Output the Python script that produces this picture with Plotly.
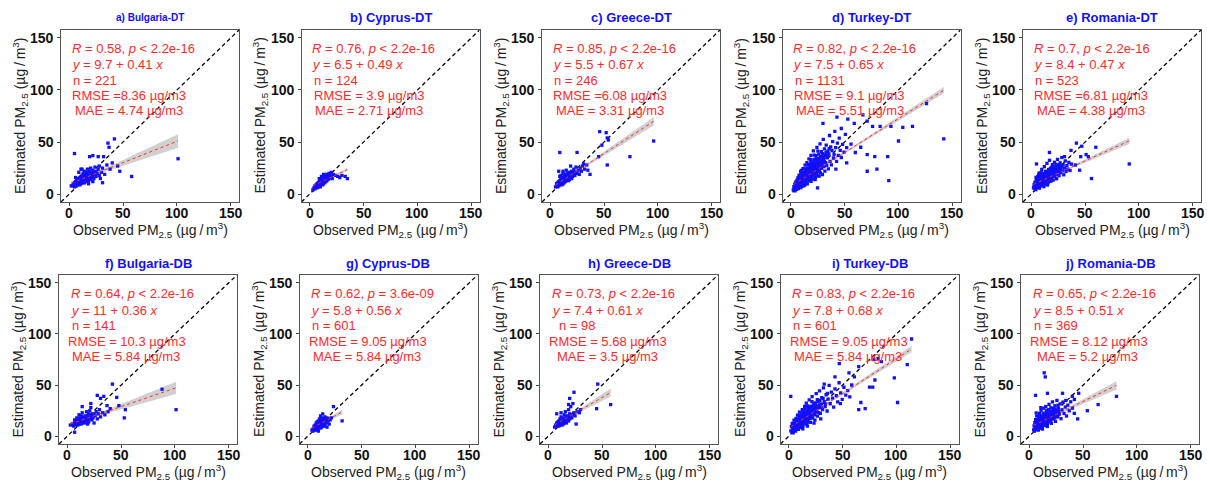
import numpy as np
import plotly.graph_objects as go

# ---------------------------------------------------------------------------
# Observed vs. estimated PM2.5 (µg/m3), one panel per country / product
# ---------------------------------------------------------------------------

# (observed, estimated) pairs per panel
BULGARIA_DT = [
    (3, 8), (4, 10), (5, 7), (5, 11), (6, 9), (6, 12), (7, 8), (7, 10), (7, 13), (8, 9), (8, 11), (8, 14),
    (9, 10), (9, 12), (9, 15), (10, 9), (10, 11), (10, 13), (10, 16), (11, 10), (11, 12), (11, 14), (11, 17),
    (12, 11), (12, 13), (12, 15), (12, 18), (13, 12), (13, 14), (13, 16), (13, 20), (14, 11), (14, 13), (14, 15),
    (14, 17), (14, 22), (15, 12), (15, 14), (15, 16), (15, 19), (16, 13), (16, 15), (16, 18), (16, 21), (17, 14),
    (17, 16), (17, 19), (17, 24), (18, 13), (18, 17), (18, 20), (19, 15), (19, 18), (19, 22), (20, 14), (20, 17),
    (20, 19), (20, 25), (21, 16), (21, 20), (22, 18), (22, 23), (23, 15), (23, 21), (24, 19), (24, 26), (25, 17),
    (25, 22), (26, 20), (27, 24), (28, 18), (28, 27), (30, 21), (31, 25), (33, 19), (35, 28), (38, 24), (29, 15),
    (22, 12), (18, 10), (9, 21), (12, 24), (6, 16),
    (5, 39), (19, 36), (22, 37), (27, 36), (32, 36), (36, 49), (42, 53), (37, 45), (47, 22), (58, 17),
    (101, 34), (31, 11), (14, 11), (2, 8), (11, 24), (40, 30), (45, 27),
]
CYPRUS_DT = [
    (3, 4), (4, 6), (5, 5), (5, 8), (6, 7), (6, 9), (7, 6), (7, 8), (7, 10), (8, 7), (8, 9), (8, 11), (9, 8),
    (9, 10), (9, 12), (10, 7), (10, 9), (10, 11), (10, 13), (11, 10), (11, 12), (11, 14), (12, 9), (12, 11),
    (12, 13), (12, 16), (13, 10), (13, 12), (13, 15), (14, 11), (14, 13), (14, 17), (15, 12), (15, 14), (15, 18),
    (16, 13), (16, 16), (16, 19), (17, 14), (17, 17), (18, 15), (18, 20), (19, 16), (19, 18), (20, 17), (20, 21),
    (21, 15), (22, 19), (24, 18), (26, 17), (28, 16), (30, 18), (33, 17), (35, 15), (9, 15), (11, 17), (13, 19),
]
GREECE_DT = [
    (5, 7), (6, 8), (6, 10), (7, 7), (7, 9), (7, 11), (8, 8), (8, 10), (8, 12), (9, 9), (9, 11), (9, 13), (10, 10),
    (10, 12), (10, 14), (10, 18), (11, 9), (11, 11), (11, 13), (11, 16), (12, 10), (12, 12), (12, 14), (12, 20),
    (13, 11), (13, 13), (13, 15), (13, 17), (14, 12), (14, 14), (14, 16), (14, 19), (15, 13), (15, 15), (15, 18),
    (16, 14), (16, 16), (16, 20), (17, 13), (17, 15), (17, 18), (18, 14), (18, 17), (18, 21), (19, 16), (19, 19),
    (20, 15), (20, 18), (20, 22), (21, 17), (21, 20), (22, 19), (22, 24), (23, 18), (24, 21), (24, 26), (25, 20),
    (26, 23), (27, 19), (28, 25), (29, 22), (30, 27), (32, 24), (12, 22), (9, 17), (15, 23), (19, 27), (8, 22),
    (9, 40), (25, 40), (46, 60), (52, 59), (53, 54), (54, 52), (53, 28), (74, 36), (96, 51), (34, 28), (35, 23),
    (37, 19), (31, 29), (45, 36), (48, 47),
]
TURKEY_DT = [
    (2.5, 4.1), (3.1, 7.2), (3.4, 5.0), (3.8, 9.6), (4.2, 3.3), (4.6, 6.4), (4.9, 11.8), (5.3, 8.1), (5.5, 4.7),
    (5.9, 13.5), (6.2, 6.9), (6.4, 10.2), (6.8, 15.6), (7.1, 8.3), (7.3, 5.4), (7.7, 12.1), (7.9, 18.2),
    (8.2, 9.7), (8.5, 6.8), (8.8, 14.3), (9.0, 11.1), (9.3, 21.5), (9.6, 8.2), (9.9, 16.4), (10.1, 12.7),
    (10.4, 7.5), (10.7, 19.3), (11.0, 10.4), (11.2, 14.9), (11.5, 24.6), (11.8, 9.1), (12.1, 17.2), (12.3, 12.5),
    (12.6, 20.8), (12.9, 15.3), (13.2, 8.7), (13.4, 27.9), (13.7, 13.6), (14.0, 18.4), (14.2, 22.5), (14.5, 11.2),
    (14.8, 16.1), (15.1, 30.2), (15.3, 14.4), (15.6, 19.8), (15.9, 25.1), (16.2, 12.6), (16.4, 17.5),
    (16.7, 21.9), (17.0, 33.8), (17.2, 15.2), (17.5, 28.4), (17.8, 19.1), (18.1, 23.6), (18.3, 13.4),
    (18.6, 17.8), (18.9, 37.2), (19.2, 21.3), (19.4, 26.8), (19.7, 16.3), (20.0, 30.5), (20.3, 19.6),
    (20.5, 24.2), (20.8, 14.5), (21.1, 41.6), (21.4, 22.8), (21.6, 28.1), (21.9, 18.3), (22.2, 33.4),
    (22.5, 25.7), (22.7, 20.9), (23.0, 16.2), (23.3, 29.6), (23.6, 36.9), (23.8, 23.4), (24.1, 19.2),
    (24.4, 44.8), (24.7, 27.3), (25.0, 31.9), (25.2, 21.7), (25.5, 17.6), (25.8, 25.9), (26.1, 38.4),
    (26.4, 29.2), (26.7, 23.1), (27.0, 34.6), (27.3, 48.2), (27.6, 20.4), (27.9, 27.5), (28.2, 31.3),
    (28.5, 40.7), (28.8, 24.8), (29.2, 36.2), (29.5, 18.9), (29.9, 29.7), (30.3, 52.6), (30.6, 33.1),
    (31.0, 26.4), (31.4, 43.5), (31.8, 22.1), (32.2, 37.8), (32.6, 30.2), (33.0, 47.1), (33.5, 27.6),
    (34.0, 34.9), (34.5, 41.2), (35.0, 24.3), (35.5, 38.6), (36.1, 56.3), (36.6, 31.4), (37.2, 45.3),
    (37.8, 28.2), (38.4, 41.9), (39.0, 50.4), (39.7, 34.7), (40.3, 38.1), (41.0, 60.2), (41.8, 44.6),
    (42.6, 31.5), (43.4, 48.9), (44.2, 37.3), (45.1, 53.7), (46.0, 42.1), (47.0, 35.2), (48.2, 47.8),
    (49.5, 40.3), (50.8, 57.4), (52.0, 44.6),
    (6.0, 9.0), (7.5, 10.6), (8.9, 12.4), (10.2, 9.6), (11.6, 13.7), (12.8, 10.9), (13.9, 15.7), (15.0, 17.3),
    (16.0, 14.8), (17.3, 18.6), (18.4, 20.2), (19.5, 17.9), (20.6, 21.7), (22.0, 23.9), (23.4, 21.0),
    (24.8, 24.5), (26.0, 26.8), (27.4, 25.1), (28.7, 28.9), (30.1, 31.1), (4.0, 5.5), (5.0, 6.2), (9.5, 6.4),
    (12.0, 7.9), (15.5, 9.8), (19.0, 12.2), (22.8, 14.1), (26.5, 17.4), (11.3, 20.1), (14.6, 24.0), (8.0, 16.8),
    (18.8, 30.9), (23.9, 34.2),
    (3.7, 6.5), (4.4, 8.8), (5.1, 10.3), (5.7, 7.6), (6.6, 12.9), (7.0, 11.0), (7.4, 14.5), (8.4, 11.6),
    (8.6, 15.2), (9.2, 13.9), (9.8, 18.6), (10.5, 15.7), (10.9, 12.2), (11.9, 16.1), (12.4, 19.4), (12.7, 14.0),
    (13.5, 17.1), (13.8, 21.2), (14.4, 19.9), (14.9, 13.6), (15.4, 22.8), (15.8, 16.9), (16.5, 20.3),
    (16.9, 24.7), (17.6, 17.2), (18.0, 26.1), (18.7, 22.4), (19.3, 19.0), (19.9, 27.4), (20.4, 23.1),
    (21.0, 25.6), (21.7, 20.0), (22.3, 29.8), (22.9, 27.0), (23.5, 31.5), (24.3, 25.9), (24.9, 29.0),
    (25.6, 33.5), (26.3, 27.8), (27.1, 30.2), (27.8, 36.1), (28.9, 33.0), (29.7, 38.9), (31.2, 35.4),
    (32.8, 40.1), (34.2, 37.0), (35.8, 43.6), (10.0, 22.8), (13.0, 24.3), (16.1, 28.6), (19.0, 33.2),
    (22.0, 37.4), (25.3, 41.3),
    (30, 68), (43, 74), (47, 63), (53, 72), (59, 68), (67, 76), (71, 70), (76, 65), (83, 65), (93, 65),
    (104, 64), (113, 65), (142, 53), (100, 51), (65, 45), (71, 38), (78, 36), (90, 36), (71, 22), (80, 24),
    (91, 13), (42, 24), (25, 6), (126, 87), (56, 48), (60, 40), (52, 30),
]
ROMANIA_DT = [
    (2.2, 6.1), (2.8, 9.3), (3.3, 5.2), (3.6, 11.4), (4.1, 7.6), (4.4, 4.3), (4.8, 13.2), (5.2, 8.9), (5.5, 6.3),
    (5.9, 10.8), (6.1, 16.7), (6.5, 7.4), (6.8, 12.5), (7.2, 9.6), (7.4, 20.3), (7.8, 5.8), (8.1, 14.1),
    (8.4, 10.9), (8.7, 7.9), (9.0, 17.6), (9.3, 12.3), (9.6, 9.1), (9.9, 23.8), (10.2, 14.7), (10.5, 11.2),
    (10.8, 8.4), (11.1, 19.5), (11.4, 13.1), (11.7, 16.2), (12.0, 10.1), (12.3, 26.4), (12.6, 14.6),
    (12.9, 11.8), (13.2, 18.3), (13.5, 21.9), (13.8, 9.7), (14.1, 15.4), (14.4, 12.7), (14.7, 29.6),
    (15.0, 17.1), (15.3, 20.4), (15.6, 13.9), (15.9, 11.0), (16.2, 23.7), (16.5, 16.5), (16.8, 19.2),
    (17.1, 32.5), (17.4, 14.3), (17.7, 21.6), (18.0, 17.9), (18.3, 12.4), (18.6, 25.3), (18.9, 19.8),
    (19.2, 15.6), (19.5, 22.7), (19.8, 28.4), (20.1, 17.3), (20.5, 13.5), (20.9, 24.1), (21.3, 20.2),
    (21.7, 30.6), (22.1, 16.9), (22.5, 22.8), (22.9, 26.7), (23.3, 19.1), (23.7, 14.8), (24.1, 24.9),
    (24.5, 33.4), (24.9, 21.3), (25.4, 27.6), (25.9, 17.7), (26.4, 23.5), (26.9, 30.1), (27.4, 20.6),
    (27.9, 25.8), (28.5, 35.2), (29.1, 22.4), (29.7, 28.3), (30.3, 18.6), (31.0, 25.1), (31.7, 31.9),
    (32.4, 21.8), (33.2, 27.4), (34.0, 24.0), (35.0, 30.5), (36.1, 22.7), (37.3, 28.9),
    (6.3, 9.9), (7.6, 11.6), (8.9, 13.2), (10.0, 12.5), (11.3, 14.8), (12.5, 16.0), (13.7, 15.9), (14.9, 18.9),
    (16.0, 18.6), (17.2, 17.0), (18.5, 21.4), (19.6, 20.0), (21.0, 22.3), (22.4, 24.3), (23.5, 23.0),
    (11.9, 7.2), (15.2, 8.8), (9.4, 20.8), (6.9, 18.4), (4.6, 16.1),
    (3.0, 7.0), (3.9, 9.4), (4.5, 6.0), (5.0, 11.9), (5.6, 9.0), (6.0, 13.8), (6.7, 8.6), (7.3, 11.9),
    (7.9, 15.9), (8.3, 9.2), (8.8, 12.0), (9.1, 15.1), (9.7, 11.5), (10.4, 17.9), (10.7, 13.6), (11.5, 11.0),
    (11.8, 18.3), (12.2, 13.3), (12.8, 20.1), (13.1, 16.9), (13.9, 13.2), (14.3, 20.6), (14.6, 17.3),
    (15.4, 15.0), (15.8, 22.1), (16.3, 14.4), (16.9, 21.0), (17.5, 18.7), (17.9, 24.4), (18.8, 16.8),
    (19.4, 25.9), (20.3, 21.4), (20.8, 18.9), (21.5, 26.0), (22.3, 21.2), (23.0, 28.6), (24.3, 22.1),
    (25.2, 24.5), (26.1, 28.3), (27.2, 23.7), (28.2, 27.1),
    (5, 29), (17, 40), (31, 36), (37, 42), (42, 49), (47, 46), (60, 45), (51, 38), (53, 36), (41, 28),
    (45, 23), (56, 15), (91, 29), (46, 36),
]
BULGARIA_DB = [
    (5, 12), (6, 10), (7, 13), (7, 16), (8, 11), (8, 14), (9, 12), (9, 15), (9, 18), (10, 11), (10, 13), (10, 16),
    (11, 12), (11, 14), (11, 17), (11, 21), (12, 13), (12, 15), (12, 18), (13, 12), (13, 14), (13, 16), (13, 20),
    (14, 13), (14, 15), (14, 17), (14, 23), (15, 14), (15, 16), (15, 19), (16, 13), (16, 15), (16, 18), (17, 14),
    (17, 17), (17, 20), (18, 15), (18, 19), (18, 24), (19, 16), (19, 20), (20, 14), (20, 18), (20, 22), (21, 17),
    (21, 25), (22, 19), (22, 28), (23, 16), (23, 21), (24, 18), (25, 22), (26, 20), (27, 24), (28, 17), (29, 22),
    (30, 26), (31, 19), (33, 23), (35, 21), (38, 24), (40, 27), (25, 13), (19, 12),
    (42, 51), (28, 40), (31, 37), (34, 39), (37, 30), (48, 30), (54, 26), (53, 18), (101, 26), (88, 46),
    (46, 38), (22, 32), (14, 29), (3, 11), (7, 4),
]
CYPRUS_DB = [
    (4, 6), (5, 5), (5, 7), (6, 6), (6, 8), (6, 10), (7, 7), (7, 9), (7, 11), (8, 6), (8, 8), (8, 10), (8, 13),
    (9, 7), (9, 9), (9, 11), (9, 14), (10, 8), (10, 10), (10, 12), (10, 15), (11, 9), (11, 11), (11, 13),
    (11, 17), (12, 8), (12, 10), (12, 12), (12, 15), (13, 9), (13, 11), (13, 14), (13, 18), (14, 10), (14, 12),
    (14, 16), (15, 11), (15, 13), (15, 17), (16, 12), (16, 15), (16, 19), (17, 13), (17, 16), (18, 14), (18, 18),
    (19, 15), (20, 17), (20, 12), (21, 16), (22, 18), (24, 29), (32, 15), (14, 22), (12, 20), (18, 9), (16, 10),
    (10, 5),
]
GREECE_DB = [
    (6, 9), (7, 11), (8, 10), (8, 13), (9, 11), (9, 14), (10, 10), (10, 12), (10, 15), (11, 11), (11, 13),
    (11, 17), (12, 12), (12, 14), (12, 19), (13, 11), (13, 13), (13, 16), (14, 12), (14, 15), (14, 18), (15, 13),
    (15, 16), (15, 21), (16, 14), (16, 17), (17, 13), (17, 15), (17, 19), (18, 16), (18, 20), (19, 15), (19, 18),
    (20, 17), (20, 22), (21, 19), (22, 18), (23, 21), (24, 23), (25, 20), (27, 24), (29, 23), (30, 26), (8, 22),
    (12, 23), (16, 24), (19, 26),
    (46, 51), (24, 43), (20, 37), (23, 32), (45, 27), (58, 31), (26, 12), (21, 29), (19, 31),
]
TURKEY_DB = [
    (2.1, 5.3), (2.6, 9.4), (3.0, 4.2), (3.4, 12.6), (3.9, 7.1), (4.3, 3.4), (4.7, 10.5), (5.0, 15.8), (5.4, 6.2),
    (5.8, 8.7), (6.1, 13.1), (6.5, 5.1), (6.9, 17.4), (7.2, 9.8), (7.6, 7.3), (8.0, 12.2), (8.3, 20.6),
    (8.7, 10.4), (9.1, 6.8), (9.4, 15.2), (9.8, 12.9), (10.1, 23.7), (10.5, 9.5), (10.8, 17.8), (11.2, 14.1),
    (11.6, 8.6), (11.9, 20.3), (12.3, 12.0), (12.7, 26.1), (13.0, 16.4), (13.4, 10.7), (13.8, 22.6),
    (14.1, 14.5), (14.5, 18.9), (14.9, 29.3), (15.3, 12.8), (15.6, 21.1), (16.0, 16.7), (16.4, 32.4),
    (16.8, 11.9), (17.2, 24.5), (17.5, 19.0), (17.9, 15.3), (18.3, 27.8), (18.7, 21.6), (19.1, 35.6),
    (19.5, 17.2), (19.9, 24.9), (20.3, 13.6), (20.8, 29.4), (21.3, 21.0), (21.8, 38.7), (22.3, 17.9),
    (22.8, 26.3), (23.3, 32.2), (23.8, 22.4), (24.4, 15.8), (25.0, 29.9), (25.6, 41.6), (26.2, 24.6),
    (26.8, 19.8), (27.4, 34.1), (28.0, 27.7), (28.7, 44.3), (29.4, 22.5), (30.1, 31.6), (30.8, 37.8),
    (31.5, 26.2), (32.3, 47.2), (33.1, 33.9), (33.9, 29.0), (34.8, 40.6), (35.7, 24.7), (36.6, 36.4),
    (37.6, 49.8), (38.6, 31.8), (39.6, 43.1), (40.7, 37.2), (41.8, 28.5), (43.0, 46.4), (44.2, 39.8),
    (45.5, 33.6), (46.8, 52.3), (48.2, 42.5), (49.7, 36.1), (51.3, 47.9), (53.0, 40.2), (54.8, 44.7),
    (56.7, 38.5), (58.5, 50.1),
    (6.0, 8.1), (7.4, 11.0), (8.8, 13.4), (10.3, 11.6), (11.4, 15.7), (12.9, 14.2), (14.3, 16.3), (15.8, 18.1),
    (17.0, 17.4), (18.5, 19.7), (19.7, 22.1), (21.0, 23.4), (22.5, 21.7), (24.0, 25.8), (25.4, 27.2),
    (26.9, 29.1), (28.3, 30.6), (9.7, 18.6), (13.6, 25.2), (17.6, 29.6), (21.6, 33.8), (13.2, 7.4), (17.4, 9.9),
    (23.6, 12.8), (29.8, 17.1),
    (3.6, 8.9), (4.2, 5.6), (4.9, 12.7), (5.6, 10.9), (6.3, 7.0), (6.7, 14.8), (7.8, 9.0), (8.1, 16.7),
    (8.5, 8.3), (9.2, 11.3), (9.9, 15.9), (10.6, 20.4), (11.0, 12.8), (11.7, 17.9), (12.1, 9.9), (12.5, 22.9),
    (13.3, 19.5), (13.9, 12.6), (14.6, 21.3), (15.1, 15.8), (15.4, 26.5), (16.2, 19.7), (16.7, 23.4),
    (17.3, 14.0), (17.8, 21.4), (18.1, 25.2), (18.9, 17.9), (19.3, 28.3), (20.1, 20.6), (20.6, 25.9),
    (21.5, 18.4), (22.0, 28.9), (22.7, 23.8), (23.5, 27.7), (24.2, 20.9), (24.8, 32.6), (25.8, 24.0),
    (26.6, 35.8), (27.6, 23.2), (29.0, 35.0), (30.5, 28.0), (32.0, 36.8), (34.2, 31.7), (36.0, 41.8),
    (2, 39), (33, 51), (43, 58), (47, 71), (56, 62), (61, 58), (65, 68), (75, 48), (78, 48), (80, 55),
    (67, 33), (65, 26), (71, 27), (48, 32), (98, 57), (101, 33), (110, 70), (114, 95), (86, 73), (83, 76),
    (79, 75),
]
ROMANIA_DB = [
    (4.2, 6.3), (4.6, 10.2), (5.0, 5.1), (5.3, 13.4), (5.7, 8.2), (6.1, 16.3), (6.4, 6.9), (6.8, 11.1),
    (7.1, 19.8), (7.5, 8.7), (7.8, 14.2), (8.2, 10.4), (8.6, 6.1), (8.9, 17.5), (9.3, 12.6), (9.7, 22.4),
    (10.0, 9.2), (10.4, 15.1), (10.8, 11.7), (11.1, 25.3), (11.5, 13.8), (11.9, 18.6), (12.2, 8.4), (12.6, 16.2),
    (13.0, 21.7), (13.3, 12.3), (13.7, 27.4), (14.1, 14.9), (14.4, 19.2), (14.8, 10.6), (15.2, 17.3),
    (15.5, 29.1), (15.9, 13.4), (16.3, 22.8), (16.6, 18.1), (17.0, 11.8), (17.4, 25.6), (17.7, 15.7),
    (18.1, 20.4), (18.5, 31.2), (18.9, 14.1), (19.3, 23.5), (19.7, 17.6), (20.2, 27.9), (20.7, 12.7),
    (21.2, 21.2), (21.7, 33.6), (22.2, 16.8), (22.7, 25.3), (23.3, 19.4), (23.9, 29.8), (24.5, 14.6),
    (25.1, 23.2), (25.8, 35.1), (26.5, 18.9), (27.2, 27.4), (28.0, 21.6), (28.8, 31.7), (29.6, 17.2),
    (30.5, 25.9), (31.4, 33.4), (32.4, 22.3), (33.5, 28.6), (34.7, 19.8), (35.9, 30.4), (37.2, 24.9),
    (38.6, 33.7), (40.2, 27.5), (41.9, 22.4),
    (7.9, 12.0), (9.0, 10.1), (10.6, 13.3), (12.0, 15.4), (13.5, 14.0), (15.0, 16.9), (16.4, 16.0), (17.8, 19.0),
    (19.0, 18.4), (20.4, 20.6), (21.9, 22.9), (23.1, 21.5), (24.7, 24.4), (12.4, 7.1), (16.9, 9.6), (9.5, 19.6),
    (6.6, 22.8), (10.9, 28.0),
    (5.5, 7.0), (6.2, 9.5), (6.9, 13.6), (7.3, 6.4), (8.0, 16.0), (8.4, 9.0), (9.1, 14.4), (9.8, 11.4),
    (10.2, 17.1), (10.7, 7.9), (11.3, 16.5), (11.7, 11.0), (12.3, 19.7), (12.8, 13.1), (13.2, 17.8),
    (13.9, 22.7), (14.3, 12.2), (14.6, 16.6), (15.3, 20.5), (15.7, 11.6), (16.1, 24.7), (16.8, 14.7),
    (17.2, 21.8), (17.6, 17.4), (18.3, 26.0), (18.7, 16.3), (19.5, 21.0), (20.0, 15.0), (20.9, 24.6),
    (21.5, 18.7), (22.5, 27.1), (23.6, 17.9), (24.2, 26.6), (25.5, 20.7), (26.8, 30.3), (27.6, 24.1),
    (6, 40), (14, 62), (15, 58), (17, 42), (31, 42), (34, 35), (40, 39), (42, 36), (46, 42), (54, 25),
    (45, 17), (64, 31), (81, 39),
]

TITLES = ["a) Bulgaria-DT", "b) Cyprus-DT", "c) Greece-DT", "d) Turkey-DT", "e) Romania-DT",
          "f) Bulgaria-DB", "g) Cyprus-DB", "h) Greece-DB", "i) Turkey-DB", "j) Romania-DB"]
POINTS = [BULGARIA_DT, CYPRUS_DT, GREECE_DT, TURKEY_DT, ROMANIA_DT,
          BULGARIA_DB, CYPRUS_DB, GREECE_DB, TURKEY_DB, ROMANIA_DB]
R_VALUES = ["0.58", "0.76", "0.85", "0.82", "0.7", "0.64", "0.62", "0.73", "0.83", "0.65"]
P_TEXT = ["&lt; 2.2e-16"] * 6 + ["= 3.6e-09"] + ["&lt; 2.2e-16"] * 3
INTERCEPTS = [9.7, 6.5, 5.5, 7.5, 8.4, 11, 5.8, 7.4, 7.8, 8.5]
SLOPES = [0.41, 0.49, 0.67, 0.65, 0.47, 0.36, 0.56, 0.61, 0.68, 0.51]
N_OBS = [221, 124, 246, 1131, 523, 141, 601, 98, 601, 369]
RMSE_TEXT = ["RMSE =8.36 µg/m3", "RMSE = 3.9 µg/m3", "RMSE =6.08 µg/m3", "RMSE = 9.1 µg/m3",
             "RMSE =6.81 µg/m3", "RMSE = 10.3 µg/m3", "RMSE = 9.05 µg/m3", "RMSE = 5.68 µg/m3",
             "RMSE = 9.05 µg/m3", "RMSE = 8.12 µg/m3"]
MAE_TEXT = ["MAE = 4.74 µg/m3", "MAE = 2.71 µg/m3", "MAE = 3.31 µg/m3", "MAE = 5.51 µg/m3",
            "MAE = 4.38 µg/m3", "MAE = 5.84 µg/m3", "MAE = 5.84 µg/m3", "MAE = 3.5 µg/m3",
            "MAE = 5.84 µg/m3", "MAE = 5.2 µg/m3"]
# half-width of the 95% confidence band at the upper end of each fit line
BAND_END = [6.5, 1.5, 4.0, 3.0, 3.0, 6.0, 2.5, 4.0, 3.0, 4.0]

TICKS = [0, 50, 100, 150]
AXIS_RANGE = [-7.5, 157.5]

# ---------------------------------------------------------------------------
W, H = 1207, 482
FONT = "Liberation Sans, Arial, sans-serif"
RED = "#ff2a2a"
BLUE = "#1010ff"
X_TITLE = "Observed PM<sub>2.5</sub> (µg\u2009/\u2009m<sup>3</sup>)"
Y_TITLE = "Estimated PM<sub>2.5</sub> (µg\u2009/\u2009m<sup>3</sup>)"

fig = go.Figure()
annotations = []
layout_axes = {}

for k in range(10):
    row, col = divmod(k, 5)
    left = (61 if row == 0 else 59) + 240.5 * col
    right = left + 178
    top, bottom = (30, 202) if row == 0 else (275, 444)
    sx = "" if k == 0 else str(k + 1)
    xa, ya = "x" + sx, "y" + sx

    common = dict(range=AXIS_RANGE, tickvals=TICKS, showticklabels=False,
                  showgrid=False, zeroline=False,
                  showline=True, mirror=True, linecolor="#555555", linewidth=1,
                  ticks="outside", ticklen=3, tickcolor="#444444")
    layout_axes["xaxis" + sx] = dict(common, domain=[left / W, right / W], anchor=ya)
    layout_axes["yaxis" + sx] = dict(common, domain=[1 - bottom / H, 1 - top / H], anchor=xa)

    pts = np.array(POINTS[k], dtype=float)
    obs, est = pts[:, 0], pts[:, 1]

    # 1:1 reference line
    fig.add_trace(go.Scatter(x=AXIS_RANGE, y=AXIS_RANGE, mode="lines", xaxis=xa, yaxis=ya,
                             line=dict(color="black", width=1.3, dash="4px,3px"),
                             showlegend=False, hoverinfo="skip"))

    # linear fit with confidence band
    xf = np.linspace(obs.min(), obs.max(), 60)
    yf = INTERCEPTS[k] + SLOPES[k] * xf
    xm = obs.mean()
    sxx = ((obs - xm) ** 2).sum()
    shape = np.sqrt(1 / len(obs) + (xf - xm) ** 2 / sxx)
    half = BAND_END[k] * shape / shape[-1]
    fig.add_trace(go.Scatter(x=np.concatenate([xf, xf[::-1]]),
                             y=np.concatenate([yf + half, (yf - half)[::-1]]),
                             fill="toself", fillcolor="rgba(170,170,170,0.55)", line=dict(width=0),
                             mode="lines", xaxis=xa, yaxis=ya, showlegend=False, hoverinfo="skip"))

    fig.add_trace(go.Scatter(x=obs, y=est, mode="markers", xaxis=xa, yaxis=ya,
                             marker=dict(color=BLUE, size=3.3, symbol="square"),
                             showlegend=False))

    fig.add_trace(go.Scatter(x=xf, y=yf, mode="lines", xaxis=xa, yaxis=ya,
                             line=dict(color=RED, width=1, dash="dot"),
                             showlegend=False, hoverinfo="skip"))

    # tick labels
    for t in TICKS:
        annotations.append(dict(x=t, y=1 - (bottom + 11) / H, xref=xa, yref="paper",
                                text=f"<b>{t}</b>", showarrow=False,
                                xanchor="center", yanchor="middle",
                                font=dict(family=FONT, size=14, color="#111111")))
        annotations.append(dict(x=(left - 5) / W, y=t, xref="paper", yref=ya,
                                text=f"<b>{t}</b>", showarrow=False,
                                xanchor="right", yanchor="middle",
                                font=dict(family=FONT, size=14, color="#111111")))

    # statistics text
    lines = [f"<i>R</i> = {R_VALUES[k]}, <i>p</i> {P_TEXT[k]}",
             f"<i>y</i> = {INTERCEPTS[k]:g} + {SLOPES[k]:g} <i>x</i>",
             f"n = {N_OBS[k]}",
             RMSE_TEXT[k],
             MAE_TEXT[k]]
    if row == 0:
        ys = [140, 124, 109.5, 94.5, 80]
        xs = [0.6, 0.6, 2.2, 0.9 if k != 1 else 2.2, 3.3]
    else:
        ys = [139, 123, 108.6, 92.7, 78]
        xs = [1.5, 1.5, 2.5, -1.0, 3.0]
        if k == 7:
            xs[2], xs[4] = 8.5, 6.7
        if k == 9:
            xs[4] = 5.5
    for txt, tx, ty in zip(lines, xs, ys):
        annotations.append(dict(x=tx, y=ty, xref=xa, yref=ya, text=txt, showarrow=False,
                                xanchor="left", yanchor="middle",
                                font=dict(family=FONT, size=13, color=RED)))

    # panel title
    annotations.append(dict(x=(left + right) / 2 / W, y=1 - (18 if row == 0 else 263) / H,
                            xref="paper", yref="paper", text=f"<b>{TITLES[k]}</b>", showarrow=False,
                            xanchor="center", yanchor="middle",
                            font=dict(family=FONT, size=10 if k == 0 else 13, color=BLUE)))

    # axis titles
    annotations.append(dict(x=(left + right) / 2 / W, y=1 - (bottom + 28) / H,
                            xref="paper", yref="paper", text=X_TITLE, showarrow=False,
                            xanchor="center", yanchor="middle",
                            font=dict(family=FONT, size=14, color="#222222")))
    annotations.append(dict(x=(left - 41) / W, y=1 - (top + bottom) / 2 / H,
                            xref="paper", yref="paper", text=Y_TITLE, showarrow=False,
                            textangle=-90, xanchor="center", yanchor="middle",
                            font=dict(family=FONT, size=14, color="#222222")))

fig.update_layout(width=W, height=H, margin=dict(l=0, r=0, t=0, b=0),
                  paper_bgcolor="white", plot_bgcolor="white",
                  annotations=annotations, **layout_axes)

fig.write_html("out.html")
